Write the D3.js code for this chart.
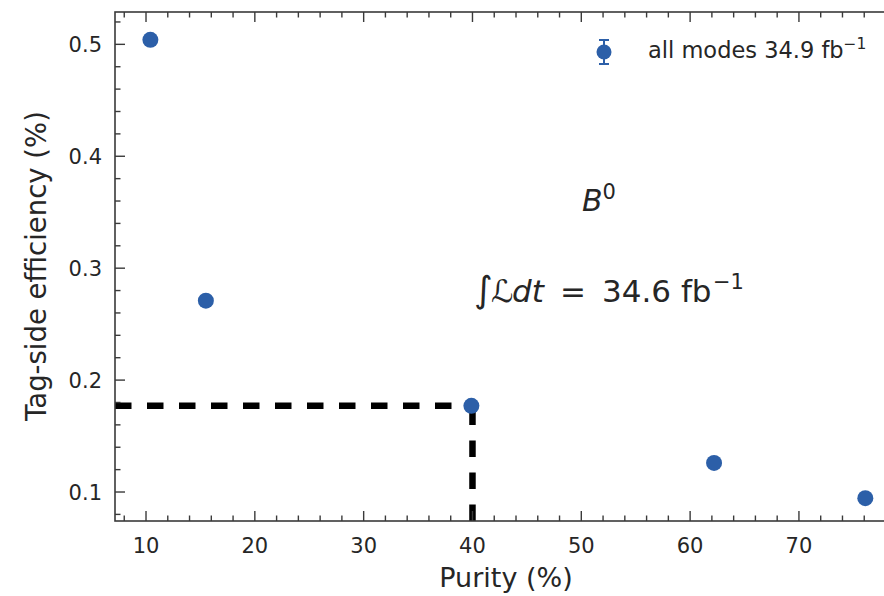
<!DOCTYPE html>
<html lang="en">
<head>
    <meta charset="UTF-8">
    <title>Tag-side efficiency vs purity</title>
    <script src="https://cdnjs.cloudflare.com/ajax/libs/d3/7.8.5/d3.min.js"></script>
    <style>
        body {
            margin: 0;
            background: #fff;
        }

        text {
            font-family: "DejaVu Sans", sans-serif;
            fill: #262626;
        }

        .spine {
            fill: none;
            stroke: #3a3a3a;
            stroke-width: 1.6px;
        }

        .tick-line {
            stroke: #3a3a3a;
            stroke-width: 1.4px;
        }

        .point {
            fill: #2c5fa8;
        }

        .guide {
            stroke: #000;
            stroke-width: 6.5px;
            stroke-dasharray: 16.5 15.5;
            fill: none;
        }
    </style>
</head>
<body>
    <div class="chart"></div>
    <script>
        // values
        var purity = [10.4, 15.5, 39.9, 62.2, 76.1];
        var efficiency = [0.504, 0.271, 0.177, 0.126, 0.0945];
        var xTicks = [10, 20, 30, 40, 50, 60, 70];
        var yTicks = [0.1, 0.2, 0.3, 0.4, 0.5];
        var workingPoint = [40, 0.177];
        var legendLabel = "all modes 34.9 fb";
        var lumiValue = "34.6 fb";

        var width = 884,
            height = 596;
        var plot = { left: 115, top: 12, right: 886, bottom: 521 };

        var svg = d3.select(".chart").append("svg")
            .attr("width", width)
            .attr("height", height);

        var x = d3.scaleLinear()
            .domain([7.15, 78])
            .range([plot.left, plot.right]);
        var y = d3.scaleLinear()
            .domain([0.0741, 0.5289])
            .range([plot.bottom, plot.top]);

        var xMinor = d3.range(8, 78.01, 2).filter(function(v) { return v % 10 != 0; });
        var yMinor = d3.range(0.08, 0.53, 0.02).filter(function(v) {
            return Math.abs(Math.round(v * 10) - v * 10) > 0.01;
        });

        // dashed guide lines to the chosen working point
        svg.append("path")
            .attr("class", "guide")
            .attr("d", "M" + x.range()[0] + "," + y(workingPoint[1]) + "H" + x(workingPoint[0]));
        svg.append("path")
            .attr("class", "guide")
            .attr("d", "M" + x(workingPoint[0]) + "," + y.range()[0] + "V" + y(workingPoint[1]));

        // data points
        svg.selectAll(".point")
            .data(purity)
            .enter()
            .append("circle")
            .attr("class", "point")
            .attr("cx", function(d) { return x(d); })
            .attr("cy", function(d, i) { return y(efficiency[i]); })
            .attr("r", 8);

        // ticks, pointing inwards (bottom, top, left)
        function tickMarks(values, len, isX) {
            values.forEach(function(v) {
                if (isX) {
                    svg.append("line").attr("class", "tick-line")
                        .attr("x1", x(v)).attr("x2", x(v))
                        .attr("y1", plot.bottom).attr("y2", plot.bottom - len);
                    svg.append("line").attr("class", "tick-line")
                        .attr("x1", x(v)).attr("x2", x(v))
                        .attr("y1", plot.top).attr("y2", plot.top + len);
                } else {
                    svg.append("line").attr("class", "tick-line")
                        .attr("x1", plot.left).attr("x2", plot.left + len)
                        .attr("y1", y(v)).attr("y2", y(v));
                }
            });
        }
        tickMarks(xTicks, 10, true);
        tickMarks(xMinor, 5.5, true);
        tickMarks(yTicks, 10, false);
        tickMarks(yMinor, 5.5, false);

        svg.append("rect")
            .attr("class", "spine")
            .attr("x", plot.left)
            .attr("y", plot.top)
            .attr("width", plot.right - plot.left)
            .attr("height", plot.bottom - plot.top);

        // tick labels
        svg.selectAll(".xlabel")
            .data(xTicks)
            .enter()
            .append("text")
            .attr("x", function(d) { return x(d); })
            .attr("y", plot.bottom + 32)
            .attr("text-anchor", "middle")
            .style("font-size", "21px")
            .text(function(d) { return d; });

        svg.selectAll(".ylabel")
            .data(yTicks)
            .enter()
            .append("text")
            .attr("x", plot.left - 13)
            .attr("y", function(d) { return y(d) + 7.5; })
            .attr("text-anchor", "end")
            .style("font-size", "21px")
            .text(function(d) { return d3.format(".1f")(d); });

        // axis titles
        svg.append("text")
            .attr("x", 506)
            .attr("y", 587)
            .attr("text-anchor", "middle")
            .style("font-size", "27px")
            .text("Purity (%)");

        svg.append("text")
            .attr("transform", "translate(46," + 266 + ") rotate(-90)")
            .attr("text-anchor", "middle")
            .style("font-size", "27.5px")
            .text("Tag-side efficiency (%)");

        // legend with errorbar marker
        var lx = 604,
            ly = 52;
        svg.append("line")
            .attr("x1", lx).attr("x2", lx)
            .attr("y1", ly - 12).attr("y2", ly + 12)
            .attr("stroke", "#2c5fa8").attr("stroke-width", 2);
        svg.append("line")
            .attr("x1", lx - 5).attr("x2", lx + 5)
            .attr("y1", ly - 12).attr("y2", ly - 12)
            .attr("stroke", "#2c5fa8").attr("stroke-width", 2);
        svg.append("line")
            .attr("x1", lx - 5).attr("x2", lx + 5)
            .attr("y1", ly + 12).attr("y2", ly + 12)
            .attr("stroke", "#2c5fa8").attr("stroke-width", 2);
        svg.append("circle")
            .attr("class", "point")
            .attr("cx", lx)
            .attr("cy", ly)
            .attr("r", 7.5);

        var leg = svg.append("text")
            .attr("x", 648)
            .attr("y", 58)
            .style("font-size", "22.5px");
        leg.append("tspan").text(legendLabel);
        leg.append("tspan")
            .attr("dy", -9)
            .style("font-size", "15.5px")
            .text("\u22121");

        // annotations
        var b0 = svg.append("text")
            .attr("x", 582)
            .attr("y", 211)
            .style("font-size", "30px");
        b0.append("tspan").style("font-style", "italic").text("B");
        b0.append("tspan")
            .attr("dy", -12)
            .style("font-size", "21px")
            .text("0");

        var lumi = svg.append("text")
            .attr("y", 302)
            .style("font-size", "31px");
        lumi.append("tspan").attr("x", 474).style("font-size", "36px").text("\u222B");
        lumi.append("tspan").attr("x", 491).text("\u2112");
        lumi.append("tspan").attr("x", 512).style("font-style", "italic").text("dt");
        lumi.append("tspan").attr("x", 560).text("=");
        lumi.append("tspan").attr("x", 602).text(lumiValue);
        lumi.append("tspan")
            .attr("x", 713)
            .attr("dy", -13)
            .style("font-size", "21px")
            .text("\u22121");
    </script>
</body>
</html>
